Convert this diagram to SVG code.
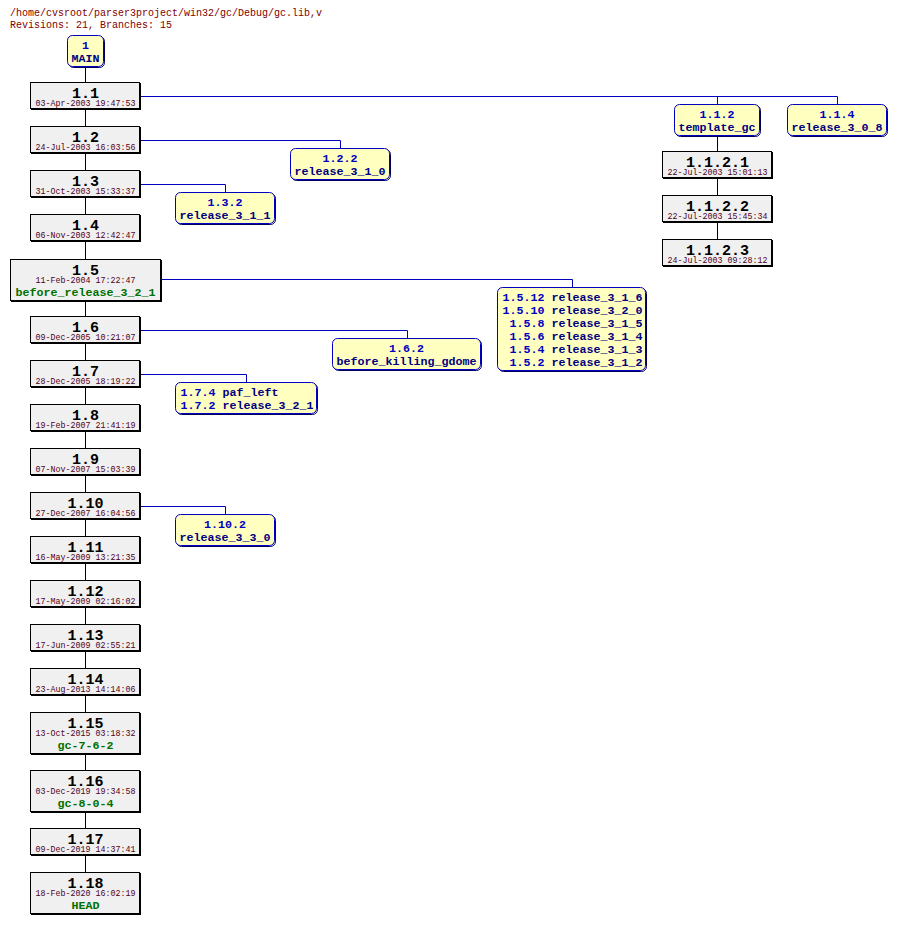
<svg xmlns="http://www.w3.org/2000/svg" width="898" height="925" viewBox="0 0 898 925">
<style>
.hdr{font-family:"Liberation Mono","DejaVu Sans Mono",monospace;font-size:10px;fill:#800000}
.rev{font-family:"Liberation Mono","DejaVu Sans Mono",monospace;font-size:15px;font-weight:bold;fill:#000;text-anchor:middle}
.date{font-family:"Liberation Mono","DejaVu Sans Mono",monospace;font-size:8.33px;fill:#500020;text-anchor:middle}
.tag{font-family:"Liberation Mono","DejaVu Sans Mono",monospace;font-size:11.67px;font-weight:bold;fill:#007000;text-anchor:middle}
.br{font-family:"Liberation Mono","DejaVu Sans Mono",monospace;font-size:11.67px;font-weight:bold;fill:#0000c0}
.bt{font-family:"Liberation Mono","DejaVu Sans Mono",monospace;font-size:11.67px;font-weight:bold;fill:#000080}
.mid{text-anchor:middle}
.tbox{fill:#f0f0f0;stroke:#000;stroke-width:1}
.tsh{fill:none;stroke:#000;stroke-width:1}
.bbox{fill:#ffffc0;stroke:#0000c0;stroke-width:1}
.bsh{fill:none;stroke:#000060;stroke-width:1}
.trunk{fill:none;stroke:#000;stroke-width:1}
.blink{fill:none;stroke:#0000c0;stroke-width:1}
</style>
<text class="hdr" x="10" y="16">/home/cvsroot/parser3project/win32/gc/Debug/gc.lib,v</text>
<text class="hdr" x="10" y="28">Revisions: 21, Branches: 15</text>
<g id="connectors">
<path class="trunk" d="M85.5 68V82M85.5 110V126M85.5 154V170M85.5 198V214M85.5 242V259M85.5 302V316M85.5 344V360M85.5 388V404M85.5 432V448M85.5 476V492M85.5 520V536M85.5 564V580M85.5 608V624M85.5 652V668M85.5 696V712M85.5 755V770M85.5 813V828M85.5 856V872"/>
<path class="trunk" d="M717.5 137V151M717.5 179V195M717.5 223V239"/>
<path class="blink" d="M141 96.5H837.5V104M717.5 96.5V104M141 140.5H340.5V148M141 184.5H225.5V192M162 279.5H572.5V287M141 330.5H407.5V338M141 374.5H246.5V382M141 506.5H225.5V514"/>
</g>
<g id="MAIN"><rect class="bsh" x="68.5" y="36.5" width="36" height="31" rx="5"/><rect class="bbox" x="67.5" y="35.5" width="36" height="31" rx="5"/><text class="br mid" x="85.5" y="49">1</text><text class="bt mid" x="85.5" y="62">MAIN</text></g>
<g id="r1.1"><rect class="tsh" x="31.5" y="83.5" width="109" height="26"/><rect class="tbox" x="30.5" y="82.5" width="109" height="26"/><text class="rev" x="85.5" y="98">1.1</text><text class="date" x="85.5" y="106">03-Apr-2003 19:47:53</text></g>
<g id="r1.2"><rect class="tsh" x="31.5" y="127.5" width="109" height="26"/><rect class="tbox" x="30.5" y="126.5" width="109" height="26"/><text class="rev" x="85.5" y="142">1.2</text><text class="date" x="85.5" y="150">24-Jul-2003 16:03:56</text></g>
<g id="r1.3"><rect class="tsh" x="31.5" y="171.5" width="109" height="26"/><rect class="tbox" x="30.5" y="170.5" width="109" height="26"/><text class="rev" x="85.5" y="186">1.3</text><text class="date" x="85.5" y="194">31-Oct-2003 15:33:37</text></g>
<g id="r1.4"><rect class="tsh" x="31.5" y="215.5" width="109" height="26"/><rect class="tbox" x="30.5" y="214.5" width="109" height="26"/><text class="rev" x="85.5" y="230">1.4</text><text class="date" x="85.5" y="238">06-Nov-2003 12:42:47</text></g>
<g id="r1.5"><rect class="tsh" x="11.5" y="260.5" width="150" height="41"/><rect class="tbox" x="10.5" y="259.5" width="150" height="41"/><text class="rev" x="85.5" y="275">1.5</text><text class="date" x="85.5" y="283">11-Feb-2004 17:22:47</text><text class="tag" x="85.5" y="296">before_release_3_2_1</text></g>
<g id="r1.6"><rect class="tsh" x="31.5" y="317.5" width="109" height="26"/><rect class="tbox" x="30.5" y="316.5" width="109" height="26"/><text class="rev" x="85.5" y="332">1.6</text><text class="date" x="85.5" y="340">09-Dec-2005 10:21:07</text></g>
<g id="r1.7"><rect class="tsh" x="31.5" y="361.5" width="109" height="26"/><rect class="tbox" x="30.5" y="360.5" width="109" height="26"/><text class="rev" x="85.5" y="376">1.7</text><text class="date" x="85.5" y="384">28-Dec-2005 18:19:22</text></g>
<g id="r1.8"><rect class="tsh" x="31.5" y="405.5" width="109" height="26"/><rect class="tbox" x="30.5" y="404.5" width="109" height="26"/><text class="rev" x="85.5" y="420">1.8</text><text class="date" x="85.5" y="428">19-Feb-2007 21:41:19</text></g>
<g id="r1.9"><rect class="tsh" x="31.5" y="449.5" width="109" height="26"/><rect class="tbox" x="30.5" y="448.5" width="109" height="26"/><text class="rev" x="85.5" y="464">1.9</text><text class="date" x="85.5" y="472">07-Nov-2007 15:03:39</text></g>
<g id="r1.10"><rect class="tsh" x="31.5" y="493.5" width="109" height="26"/><rect class="tbox" x="30.5" y="492.5" width="109" height="26"/><text class="rev" x="85.5" y="508">1.10</text><text class="date" x="85.5" y="516">27-Dec-2007 16:04:56</text></g>
<g id="r1.11"><rect class="tsh" x="31.5" y="537.5" width="109" height="26"/><rect class="tbox" x="30.5" y="536.5" width="109" height="26"/><text class="rev" x="85.5" y="552">1.11</text><text class="date" x="85.5" y="560">16-May-2009 13:21:35</text></g>
<g id="r1.12"><rect class="tsh" x="31.5" y="581.5" width="109" height="26"/><rect class="tbox" x="30.5" y="580.5" width="109" height="26"/><text class="rev" x="85.5" y="596">1.12</text><text class="date" x="85.5" y="604">17-May-2009 02:16:02</text></g>
<g id="r1.13"><rect class="tsh" x="31.5" y="625.5" width="109" height="26"/><rect class="tbox" x="30.5" y="624.5" width="109" height="26"/><text class="rev" x="85.5" y="640">1.13</text><text class="date" x="85.5" y="648">17-Jun-2009 02:55:21</text></g>
<g id="r1.14"><rect class="tsh" x="31.5" y="669.5" width="109" height="26"/><rect class="tbox" x="30.5" y="668.5" width="109" height="26"/><text class="rev" x="85.5" y="684">1.14</text><text class="date" x="85.5" y="692">23-Aug-2013 14:14:06</text></g>
<g id="r1.15"><rect class="tsh" x="31.5" y="713.5" width="109" height="41"/><rect class="tbox" x="30.5" y="712.5" width="109" height="41"/><text class="rev" x="85.5" y="728">1.15</text><text class="date" x="85.5" y="736">13-Oct-2015 03:18:32</text><text class="tag" x="85.5" y="749">gc-7-6-2</text></g>
<g id="r1.16"><rect class="tsh" x="31.5" y="771.5" width="109" height="41"/><rect class="tbox" x="30.5" y="770.5" width="109" height="41"/><text class="rev" x="85.5" y="786">1.16</text><text class="date" x="85.5" y="794">03-Dec-2019 19:34:58</text><text class="tag" x="85.5" y="807">gc-8-0-4</text></g>
<g id="r1.17"><rect class="tsh" x="31.5" y="829.5" width="109" height="26"/><rect class="tbox" x="30.5" y="828.5" width="109" height="26"/><text class="rev" x="85.5" y="844">1.17</text><text class="date" x="85.5" y="852">09-Dec-2019 14:37:41</text></g>
<g id="r1.18"><rect class="tsh" x="31.5" y="873.5" width="109" height="41"/><rect class="tbox" x="30.5" y="872.5" width="109" height="41"/><text class="rev" x="85.5" y="888">1.18</text><text class="date" x="85.5" y="896">18-Feb-2020 16:02:19</text><text class="tag" x="85.5" y="909">HEAD</text></g>
<g id="b1.1.2"><rect class="bsh" x="675.5" y="105.5" width="85" height="31" rx="5"/><rect class="bbox" x="674.5" y="104.5" width="85" height="31" rx="5"/><text class="br mid" x="717" y="118">1.1.2</text><text class="bt mid" x="717" y="131">template_gc</text></g>
<g id="b1.1.4"><rect class="bsh" x="788.5" y="105.5" width="99" height="31" rx="5"/><rect class="bbox" x="787.5" y="104.5" width="99" height="31" rx="5"/><text class="br mid" x="837" y="118">1.1.4</text><text class="bt mid" x="837" y="131">release_3_0_8</text></g>
<g id="r1.1.2.1"><rect class="tsh" x="663.5" y="152.5" width="109" height="26"/><rect class="tbox" x="662.5" y="151.5" width="109" height="26"/><text class="rev" x="717.5" y="167">1.1.2.1</text><text class="date" x="717.5" y="175">22-Jul-2003 15:01:13</text></g>
<g id="r1.1.2.2"><rect class="tsh" x="663.5" y="196.5" width="109" height="26"/><rect class="tbox" x="662.5" y="195.5" width="109" height="26"/><text class="rev" x="717.5" y="211">1.1.2.2</text><text class="date" x="717.5" y="219">22-Jul-2003 15:45:34</text></g>
<g id="r1.1.2.3"><rect class="tsh" x="663.5" y="240.5" width="109" height="26"/><rect class="tbox" x="662.5" y="239.5" width="109" height="26"/><text class="rev" x="717.5" y="255">1.1.2.3</text><text class="date" x="717.5" y="263">24-Jul-2003 09:28:12</text></g>
<g id="b1.2.2"><rect class="bsh" x="291.5" y="149.5" width="99" height="31" rx="5"/><rect class="bbox" x="290.5" y="148.5" width="99" height="31" rx="5"/><text class="br mid" x="340" y="162">1.2.2</text><text class="bt mid" x="340" y="175">release_3_1_0</text></g>
<g id="b1.3.2"><rect class="bsh" x="176.5" y="193.5" width="99" height="31" rx="5"/><rect class="bbox" x="175.5" y="192.5" width="99" height="31" rx="5"/><text class="br mid" x="225" y="206">1.3.2</text><text class="bt mid" x="225" y="219">release_3_1_1</text></g>
<g id="b1.5.x"><rect class="bsh" x="498.5" y="288.5" width="148" height="83" rx="5"/><rect class="bbox" x="497.5" y="287.5" width="148" height="83" rx="5"/>
<text class="br" x="502.5" y="301">1.5.12</text><text class="bt" x="551.5" y="301">release_3_1_6</text>
<text class="br" x="502.5" y="314">1.5.10</text><text class="bt" x="551.5" y="314">release_3_2_0</text>
<text class="br" x="509.5" y="327">1.5.8</text><text class="bt" x="551.5" y="327">release_3_1_5</text>
<text class="br" x="509.5" y="340">1.5.6</text><text class="bt" x="551.5" y="340">release_3_1_4</text>
<text class="br" x="509.5" y="353">1.5.4</text><text class="bt" x="551.5" y="353">release_3_1_3</text>
<text class="br" x="509.5" y="366">1.5.2</text><text class="bt" x="551.5" y="366">release_3_1_2</text></g>
<g id="b1.6.2"><rect class="bsh" x="333.5" y="339.5" width="148" height="31" rx="5"/><rect class="bbox" x="332.5" y="338.5" width="148" height="31" rx="5"/><text class="br mid" x="406.5" y="352">1.6.2</text><text class="bt mid" x="406.5" y="365">before_killing_gdome</text></g>
<g id="b1.7.x"><rect class="bsh" x="176.5" y="383.5" width="141" height="31" rx="5"/><rect class="bbox" x="175.5" y="382.5" width="141" height="31" rx="5"/>
<text class="br" x="180.5" y="396">1.7.4</text><text class="bt" x="222.5" y="396">paf_left</text>
<text class="br" x="180.5" y="409">1.7.2</text><text class="bt" x="222.5" y="409">release_3_2_1</text></g>
<g id="b1.10.2"><rect class="bsh" x="176.5" y="515.5" width="99" height="31" rx="5"/><rect class="bbox" x="175.5" y="514.5" width="99" height="31" rx="5"/><text class="br mid" x="225" y="528">1.10.2</text><text class="bt mid" x="225" y="541">release_3_3_0</text></g>
</svg>
